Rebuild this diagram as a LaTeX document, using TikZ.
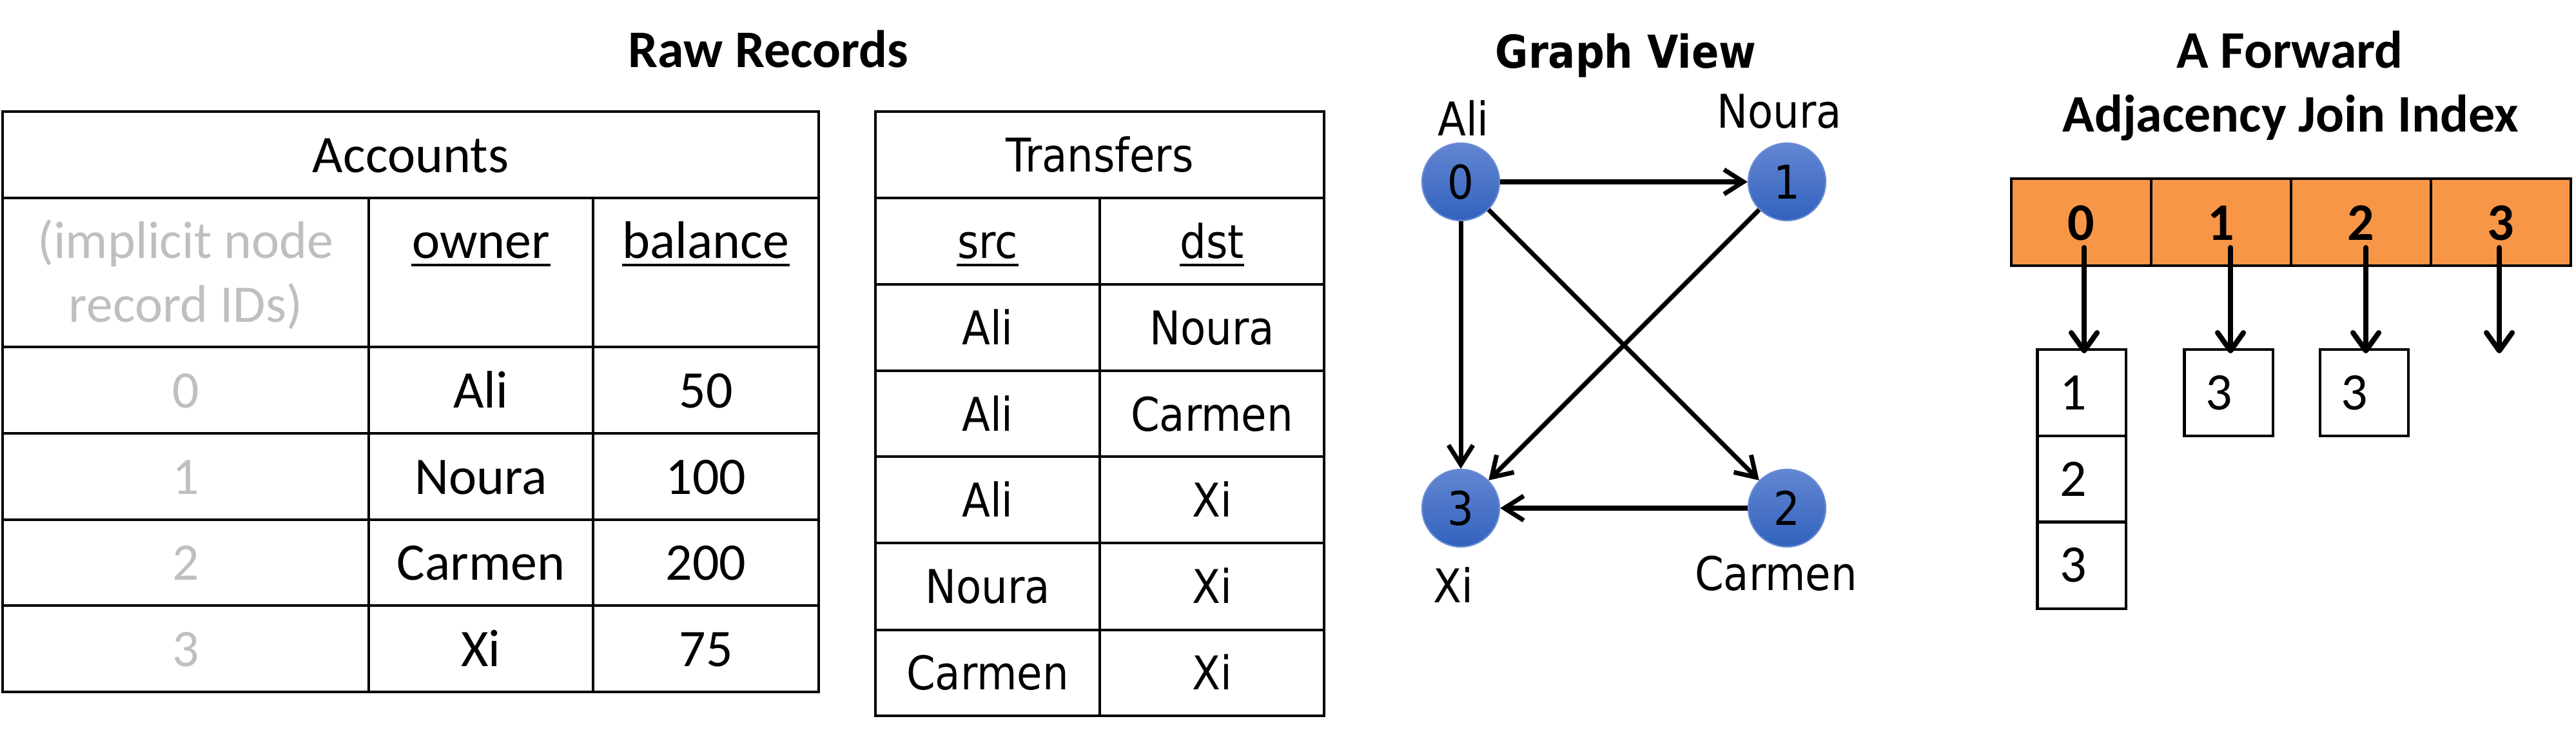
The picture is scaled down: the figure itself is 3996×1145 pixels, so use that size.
\documentclass[tikz,border=0pt]{standalone}
\usepackage{fontspec}
\setmainfont{Carlito}
\newfontfamily\tahfont{DejaVu Sans}[FakeStretch=0.89]
\usetikzlibrary{arrows.meta}
\definecolor{idgray}{RGB}{191,191,191}
\definecolor{orangefill}{RGB}{247,150,70}
\definecolor{blueT}{RGB}{99,134,209}
\definecolor{blueB}{RGB}{50,98,190}
\definecolor{blueEdge}{RGB}{105,140,212}
\begin{document}
\begin{tikzpicture}[x=0.01cm,y=-0.01cm,
  cal/.style={font=\fontsize{23.3}{28}\selectfont, inner sep=0pt, anchor=base},
  calb/.style={font=\fontsize{23.3}{28}\selectfont\bfseries, inner sep=0pt, anchor=base},
  tah/.style={font=\tahfont\fontsize{20.5}{24}\selectfont, inner sep=0pt, anchor=base},
  tahb/.style={font=\tahfont\fontsize{20}{24}\selectfont\bfseries, inner sep=0pt, anchor=base},
  gray/.style={text=idgray},
  tabline/.style={line width=1.1pt},
  uline/.style={line width=1.1pt},
  gnode/.style={circle, minimum size=1.2cm, inner sep=0pt, top color=blueT, bottom color=blueB,
     draw=blueEdge, line width=0.6pt, font=\tahfont\fontsize{20.5}{24}\selectfont},
  gedge/.style={line width=2pt, -{Straight Barb[length=0.3cm,width=0.38cm]}},
  adjarrow/.style={line width=2.3pt, line cap=round, -{Straight Barb[length=0.28cm,width=0.4cm,round]}},
  barline/.style={line width=1.15pt},
  cell/.style={draw, line width=1.15pt, minimum width=1.37cm, minimum height=1.34cm, inner sep=0pt}
]
\useasboundingbox (0,0) rectangle (3996,1145);

% ---------- Titles ----------
\node[calb] (tRaw) at (1192,104) {Raw Records};
\node[tahb] (tGraph) at (2522,105) {Graph View};
\node[calb] (tAdj1) at (3552,105) {A Forward};
\node[calb] (tAdj2) at (3553,204) {Adjacency Join Index};

% ---------- Accounts table ----------
\draw[tabline] (4,173) rectangle (1270,1073);
\foreach \yy in {307,538,672,806,939} \draw[tabline] (4,\yy) -- (1270,\yy);
\foreach \xx in {572,920} \draw[tabline] (\xx,307) -- (\xx,1073);

\node[cal] (accH) at (637,267) {Accounts};
\node[cal,gray] (idH1) at (288,400) {(implicit node};
\node[cal,gray] (idH2) at (288,499) {record IDs)};
\node[cal] (ownerH) at (746,400) {owner};
\node[cal] (balH) at (1095,400) {balance};
\draw[uline] ([yshift=-0.11cm]ownerH.base west) -- ([yshift=-0.11cm]ownerH.base east);
\draw[uline] ([yshift=-0.11cm]balH.base west) -- ([yshift=-0.11cm]balH.base east);

\node[cal,gray] (id0) at (288,632) {0};
\node[cal,gray] (id1) at (288,766) {1};
\node[cal,gray] (id2) at (288,899) {2};
\node[cal,gray] (id3) at (288,1033) {3};
\node[cal] (own0) at (746,632) {Ali};
\node[cal] (own1) at (746,766) {Noura};
\node[cal] (own2) at (746,899) {Carmen};
\node[cal] (own3) at (746,1033) {Xi};
\node[cal] (bal0) at (1095,632) {50};
\node[cal] (bal1) at (1095,766) {100};
\node[cal] (bal2) at (1095,899) {200};
\node[cal] (bal3) at (1095,1033) {75};

% ---------- Transfers table ----------
\draw[tabline] (1358,173) rectangle (2054,1110);
\foreach \yy in {307,441,575,708,842,977} \draw[tabline] (1358,\yy) -- (2054,\yy);
\draw[tabline] (1706,307) -- (1706,1110);

\node[tah] (trH) at (1706,266) {Transfers};
\node[tah] (srcH) at (1532,400) {src};
\node[tah] (dstH) at (1880,400) {dst};
\draw[uline] ([yshift=-0.11cm]srcH.base west) -- ([yshift=-0.11cm]srcH.base east);
\draw[uline] ([yshift=-0.11cm]dstH.base west) -- ([yshift=-0.11cm]dstH.base east);

\node[tah] (s1) at (1532,534) {Ali};
\node[tah] (d1) at (1880,534) {Noura};
\node[tah] (s2) at (1532,668) {Ali};
\node[tah] (d2) at (1880,668) {Carmen};
\node[tah] (s3) at (1532,801) {Ali};
\node[tah] (d3) at (1880,801) {Xi};
\node[tah] (s4) at (1532,935) {Noura};
\node[tah] (d4) at (1880,935) {Xi};
\node[tah] (s5) at (1532,1069) {Carmen};
\node[tah] (d5) at (1880,1069) {Xi};

% ---------- Graph view ----------
\node[gnode] (g0) at (2266,282) {0};
\node[gnode] (g1) at (2772,282) {1};
\node[gnode] (g2) at (2772,788) {2};
\node[gnode] (g3) at (2266,788) {3};

\node[tah] (lAli) at (2270,210) {Ali};
\node[tah] (lNoura) at (2760,198) {Noura};
\node[tah] (lXi) at (2254,934) {Xi};
\node[tah] (lCarmen) at (2755,915) {Carmen};

\draw[gedge] (g0) -- (g1);
\draw[gedge] (g0) -- (g3);
\draw[gedge] (g0) -- (g2);
\draw[gedge] (g1) -- (g3);
\draw[gedge] (g2) -- (g3);

% ---------- Adjacency join index ----------
\draw[barline, fill=orangefill] (3120,277) rectangle (3988,412);
\foreach \xx in {3337,3554,3771} \draw[barline] (\xx,277) -- (\xx,412);
\node[calb] (v0) at (3228,372) {0};
\node[calb] (v1) at (3445,372) {1};
\node[calb] (v2) at (3662,372) {2};
\node[calb] (v3) at (3879,372) {3};

\node[cell] (c00) at (3229,609) {};
\node[cell] (c01) at (3229,743) {};
\node[cell] (c02) at (3229,876.5) {};
\node[cell] (c10) at (3457,609) {};
\node[cell] (c20) at (3667.5,609) {};

\node[cal] (n00) at (3216,635) {1};
\node[cal] (n01) at (3216,769) {2};
\node[cal] (n02) at (3216,902) {3};
\node[cal] (n10) at (3442,635) {3};
\node[cal] (n20) at (3652,635) {3};

\coordinate (a0s) at (3233,384); \coordinate (a0e) at (3233,548);
\coordinate (a1s) at (3460,384); \coordinate (a1e) at (3460,548);
\coordinate (a2s) at (3670,384); \coordinate (a2e) at (3670,548);
\coordinate (a3s) at (3877,384); \coordinate (a3e) at (3877,548);
\draw[adjarrow] (a0s) -- (a0e);
\draw[adjarrow] (a1s) -- (a1e);
\draw[adjarrow] (a2s) -- (a2e);
\draw[adjarrow] (a3s) -- (a3e);
\end{tikzpicture}
\end{document}
